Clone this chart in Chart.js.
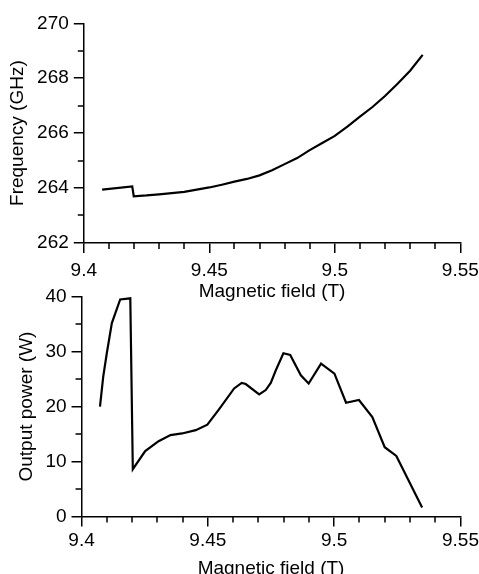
<!DOCTYPE html>
<html>
<head>
<meta charset="utf-8">
<script src="https://cdn.jsdelivr.net/npm/chart.js@4.4.1/dist/chart.umd.min.js"></script>
<style>
  html, body { margin: 0; padding: 0; background: #fff; overflow: hidden; }
  body { width: 479px; height: 574px; position: relative; }
  canvas { position: absolute; left: 0; }
  #freqChart { top: 0; }
  #powerChart { top: 270px; }
</style>
</head>
<body>
<canvas id="freqChart" width="485" height="310"></canvas>
<canvas id="powerChart" width="482" height="320"></canvas>
<script>
// magnetic field (T) and frequency (GHz), top panel
var freq_field = [9.4073, 9.4193, 9.4199, 9.425, 9.43, 9.435, 9.44, 9.445, 9.45, 9.455,
  9.46, 9.465, 9.47, 9.475, 9.48, 9.485, 9.49, 9.495, 9.5, 9.505,
  9.51, 9.515, 9.52, 9.525, 9.53, 9.535];
var freq_values = [263.94, 264.06, 263.70, 263.73, 263.77, 263.81, 263.86, 263.94, 264.02, 264.12,
  264.23, 264.33, 264.46, 264.65, 264.87, 265.09, 265.38, 265.64, 265.90, 266.24,
  266.60, 266.95, 267.35, 267.80, 268.27, 268.85];

// magnetic field (T) and output power (W), bottom panel
var power_field = [9.4073, 9.4086, 9.41, 9.412, 9.4153, 9.4193, 9.4203, 9.4252, 9.4305, 9.4352,
  9.4398, 9.4452, 9.4498, 9.4544, 9.4604, 9.4634, 9.465, 9.4703, 9.4729, 9.4749,
  9.4769, 9.4799, 9.4826, 9.4868, 9.4899, 9.4948, 9.5001, 9.5047, 9.5098, 9.5151,
  9.52, 9.5246, 9.5348];
var power_values = [20.0, 25.5, 29.7, 35.2, 39.5, 39.7, 8.6, 11.9, 13.7, 14.8,
  15.1, 15.7, 16.7, 19.5, 23.3, 24.3, 24.1, 22.2, 23.0, 24.3,
  26.6, 29.7, 29.4, 25.7, 24.2, 27.8, 26.0, 20.7, 21.2, 18.1,
  12.6, 11.0, 1.6];

var field_ticks = [9.4, 9.45, 9.5, 9.55];
var field_minor = [9.41, 9.42, 9.43, 9.44, 9.46, 9.47, 9.48, 9.49, 9.51, 9.52, 9.53, 9.54];
var freq_minor = [263, 265, 267, 269];
var power_minor = [5, 15, 25, 35];

var FONT = { family: "'Liberation Sans', Arial, sans-serif", size: 19 };

// short outside ticks between the labelled ones
var minorTicks = {
  id: "minorTicks",
  afterDraw: function (chart, args, opts) {
    var ctx = chart.ctx;
    var area = chart.chartArea;
    var xs = chart.scales.x;
    var ys = chart.scales.y;
    ctx.save();
    ctx.strokeStyle = "#000";
    ctx.lineWidth = 1.5;
    ctx.beginPath();
    opts.x.forEach(function (v) {
      var px = Math.round(xs.getPixelForValue(v));
      ctx.moveTo(px, area.bottom);
      ctx.lineTo(px, area.bottom + 6);
    });
    opts.y.forEach(function (v) {
      var py = Math.round(ys.getPixelForValue(v));
      ctx.moveTo(area.left, py);
      ctx.lineTo(area.left - 6, py);
    });
    ctx.stroke();
    ctx.restore();
  },
};

function toPoints(xs, ys) {
  var pts = [];
  for (let i = 0; i < xs.length; i++) {
    pts.push({ x: xs[i], y: ys[i] });
  }
  return pts;
}

// s holds the few spacing numbers that differ between the two panels
function makeConfig(points, yTitle, yMin, yMax, yStep, yMinor, s) {
  return {
    type: "line",
    data: {
      datasets: [
        {
          data: points,
          borderColor: "#000",
          borderWidth: 2.2,
          pointRadius: 0,
          tension: 0,
          fill: false,
        },
      ],
    },
    options: {
      responsive: false,
      devicePixelRatio: 1,
      animation: false,
      layout: { padding: s.padding },
      plugins: {
        legend: { display: false },
        tooltip: { enabled: false },
        minorTicks: { x: field_minor, y: yMinor },
      },
      scales: {
        x: {
          type: "linear",
          min: 9.4,
          max: 9.55,
          afterBuildTicks: function (scale) {
            scale.ticks = field_ticks.map(function (v) { return { value: v }; });
          },
          ticks: {
            color: "#000",
            font: FONT,
            padding: s.xTickPad,
            maxRotation: 0,
            callback: function (v) { return String(+v.toFixed(2)); },
          },
          grid: { drawOnChartArea: false, tickLength: 10, color: "#000", lineWidth: 1.5 },
          border: { color: "#000", width: 1.5 },
          title: {
            display: true,
            text: "Magnetic field (T)",
            color: "#000",
            font: FONT,
            padding: { top: s.xTitlePad, bottom: 0 },
          },
        },
        y: {
          min: yMin,
          max: yMax,
          ticks: { stepSize: yStep, color: "#000", font: FONT, padding: 5 },
          grid: { drawOnChartArea: false, tickLength: 10, color: "#000", lineWidth: 1.5 },
          border: { color: "#000", width: 1.5 },
          title: {
            display: true,
            text: yTitle,
            color: "#000",
            font: FONT,
            padding: { top: 0, bottom: s.yTitlePad },
          },
        },
      },
    },
    plugins: [minorTicks],
  };
}

window.freqChart = new Chart(
  document.getElementById("freqChart").getContext("2d"),
  makeConfig(toPoints(freq_field, freq_values), "Frequency (GHz)", 262, 270, 2, freq_minor, {
    padding: { top: 23.3, left: 6.5, right: 0, bottom: 6.6 },
    xTickPad: 6.2,
    xTitlePad: -7.5,
    yTitlePad: 2.8,
  })
);
window.powerChart = new Chart(
  document.getElementById("powerChart").getContext("2d"),
  makeConfig(toPoints(power_field, power_values), "Output power (W)", 0, 40, 10, power_minor, {
    padding: { top: 26.7, left: 15.3, right: 0, bottom: 10.1 },
    xTickPad: 3,
    xTitlePad: 1.9,
    yTitlePad: 2.3,
  })
);
</script>
</body>
</html>
